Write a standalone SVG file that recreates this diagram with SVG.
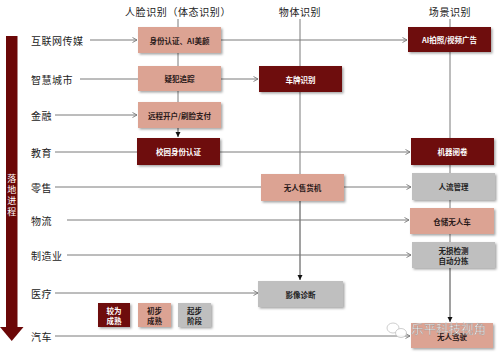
<svg xmlns="http://www.w3.org/2000/svg" width="500" height="353" viewBox="0 0 500 353">
<defs>
<filter id="sh" x="-10%" y="-10%" width="130%" height="140%">
<feDropShadow dx="1.5" dy="1.5" stdDeviation="0.8" flood-color="#000" flood-opacity="0.35"/>
</filter>
<marker id="open" markerWidth="7" markerHeight="7" refX="5" refY="3" orient="auto" markerUnits="userSpaceOnUse">
<path d="M0.5,0.5 L5,3 L0.5,5.5" fill="none" stroke="#777" stroke-width="0.9"/>
</marker>
<marker id="fill" markerWidth="6" markerHeight="6" refX="5" refY="2.5" orient="auto" markerUnits="userSpaceOnUse">
<path d="M0,0 L5,2.5 L0,5 Z" fill="#111"/>
</marker>
</defs>
<style>
text{font-family:"Noto Sans CJK SC","Liberation Serif",serif;}
.row{font-size:10px;fill:#222;letter-spacing:0.5px;dominant-baseline:central;}
.hdr{font-size:10px;fill:#222;letter-spacing:0.6px;text-anchor:middle;dominant-baseline:central;}
.bx{font-size:7.5px;font-weight:bold;text-anchor:middle;dominant-baseline:central;}
.dark rect{fill:#6E0A0A;filter:url(#sh);}
.dark text{fill:#fff;}
.sal rect{fill:#DCA393;filter:url(#sh);}
.sal text{fill:#2a1a1a;}
.gry rect{fill:#BFBFBF;filter:url(#sh);}
.gry text{fill:#222;}
.ln{stroke:#7a7a7a;stroke-width:1;fill:none;}
.lo{marker-end:url(#open);}
.lf{marker-end:url(#fill);stroke:#444;}
</style>
<rect width="500" height="353" fill="#fff"/>

<g id="progress-arrow">
<rect x="6" y="36" width="11.5" height="291" fill="#6B0707"/>
<polygon points="0,327 23.5,327 11.75,341" fill="#6B0707"/>
<text x="11.75" y="174" font-size="9" fill="#fff" style="writing-mode:vertical-rl;letter-spacing:2px;">落地进程</text>
</g>

<g id="headers">
<text class="hdr" x="178" y="11">人脸识别（体态识别）</text>
<text class="hdr" x="300" y="11">物体识别</text>
<text class="hdr" x="450" y="11">场景识别</text>
</g>

<g id="row-labels">
<text class="row" x="31" y="40">互联网传媒</text>
<text class="row" x="31" y="79">智慧城市</text>
<text class="row" x="31" y="115">金融</text>
<text class="row" x="31" y="152">教育</text>
<text class="row" x="31" y="187">零售</text>
<text class="row" x="31" y="220">物流</text>
<text class="row" x="31" y="255">制造业</text>
<text class="row" x="31" y="293">医疗</text>
<text class="row" x="31" y="336">汽车</text>
</g>

<g id="connectors">
<line class="ln" x1="178" y1="19" x2="178" y2="27"/>
<line class="ln" x1="178" y1="53" x2="178" y2="66"/>
<line class="ln" x1="178" y1="91" x2="178" y2="102"/>
<line class="ln lf" x1="178" y1="128" x2="178" y2="137"/>
<line class="ln" x1="300" y1="19" x2="300" y2="66"/>
<line class="ln" x1="300" y1="92" x2="300" y2="174"/>
<line class="ln lf" x1="300" y1="201" x2="300" y2="280"/>
<line class="ln" x1="450" y1="19" x2="450" y2="27"/>
<line class="ln" x1="450" y1="52" x2="450" y2="138"/>
<line class="ln" x1="450" y1="165" x2="450" y2="173"/>
<line class="ln" x1="450" y1="200" x2="450" y2="208"/>
<line class="ln" x1="450" y1="234" x2="450" y2="242"/>
<line class="ln lf" x1="450" y1="268" x2="450" y2="322"/>
<line class="ln lo" x1="90" y1="40" x2="137" y2="40"/>
<line class="ln lo" x1="221" y1="40" x2="407" y2="40"/>
<line class="ln" x1="80" y1="79" x2="138" y2="79"/>
<line class="ln lo" x1="221" y1="79" x2="258" y2="79"/>
<line class="ln lo" x1="55" y1="115" x2="137" y2="115"/>
<line class="ln" x1="55" y1="152" x2="137" y2="152"/>
<line class="ln lo" x1="220" y1="152" x2="410" y2="152"/>
<line class="ln" x1="55" y1="187" x2="261" y2="187"/>
<line class="ln lo" x1="344" y1="187" x2="411" y2="187"/>
<line class="ln lo" x1="67" y1="220" x2="409" y2="220"/>
<line class="ln lo" x1="67" y1="255" x2="411" y2="255"/>
<line class="ln lo" x1="55" y1="293" x2="258" y2="293"/>
<line class="ln lo" x1="55" y1="336" x2="410" y2="336"/>
</g>

<g id="n-identity" class="sal"><rect x="138" y="27" width="83" height="26"/><text class="bx" x="179.5" y="40">身份认证、AI美颜</text></g>
<g id="n-suspect" class="sal"><rect x="138" y="66" width="83" height="25"/><text class="bx" x="179.5" y="78.5">疑犯追踪</text></g>
<g id="n-remote" class="sal"><rect x="138" y="102" width="83" height="26"/><text class="bx" x="179.5" y="115">远程开户/刷脸支付</text></g>
<g id="n-campus" class="dark"><rect x="137" y="138" width="83" height="27"/><text class="bx" x="178.5" y="151.5">校园身份认证</text></g>

<g id="n-plate" class="dark"><rect x="259" y="66" width="83" height="26"/><text class="bx" x="300.5" y="79">车牌识别</text></g>
<g id="n-vending" class="sal"><rect x="261" y="174" width="83" height="27"/><text class="bx" x="302.5" y="187.5">无人售货机</text></g>
<g id="n-imaging" class="gry"><rect x="258" y="281" width="85" height="26"/><text class="bx" x="300.5" y="294">影像诊断</text></g>

<g id="n-aiphoto" class="dark"><rect x="408" y="27" width="83" height="25"/><text class="bx" x="449.5" y="39.5">AI拍照/视频广告</text></g>
<g id="n-grading" class="dark"><rect x="411" y="138" width="83" height="27"/><text class="bx" x="452.5" y="151.5">机器阅卷</text></g>
<g id="n-crowd" class="gry"><rect x="412" y="173" width="83" height="27"/><text class="bx" x="453.5" y="186.5">人流管理</text></g>
<g id="n-warehouse" class="sal"><rect x="410" y="208" width="84" height="26"/><text class="bx" x="452" y="221">仓储无人车</text></g>
<g id="n-inspect" class="gry"><rect x="412" y="242" width="83" height="26"/><text class="bx" x="453.5" y="250.5">无损检测</text><text class="bx" x="453.5" y="260">自动分拣</text></g>
<g id="n-driving" class="sal"><rect x="411" y="323" width="82" height="25"/><text class="bx" x="452" y="336">无人驾驶</text></g>

<g id="legend">
<g id="lg-mature" class="dark"><rect x="98" y="303" width="32" height="24"/><text class="bx" x="114" y="310.5">较为</text><text class="bx" x="114" y="320">成熟</text></g>
<g id="lg-early" class="sal"><rect x="138" y="303" width="33" height="24"/><text class="bx" x="154.5" y="310.5">初步</text><text class="bx" x="154.5" y="320">成熟</text></g>
<g id="lg-start" class="gry"><rect x="178" y="303" width="33" height="24"/><text class="bx" x="194.5" y="310.5">起步</text><text class="bx" x="194.5" y="320">阶段</text></g>
</g>

<g id="watermark" opacity="0.9">
<ellipse cx="393" cy="328" rx="6" ry="5" fill="#fff" stroke="#bbb" stroke-width="0.8"/>
<ellipse cx="401" cy="333" rx="5.5" ry="4.5" fill="#fff" stroke="#bbb" stroke-width="0.8"/>
<text x="411" y="334" font-size="12.5" fill="#fff" stroke="#999" stroke-width="0.4">乐平科技视角</text>
</g>
</svg>
